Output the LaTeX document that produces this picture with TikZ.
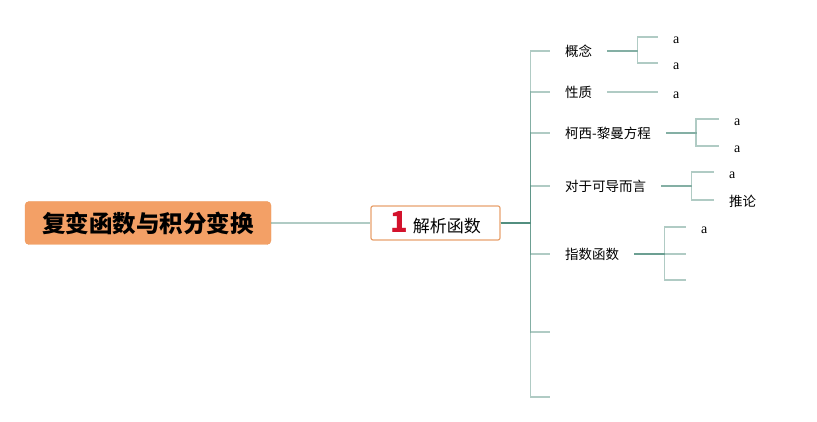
\documentclass[tikz,border=0pt]{standalone}
\usepackage{fontspec}
\newfontfamily\cjk{Noto Sans CJK SC}
\newfontfamily\blattfont{Liberation Serif}
\definecolor{rootfill}{HTML}{F3A066}
\definecolor{rootline}{HTML}{EE9A5C}
\definecolor{subline}{HTML}{E8A26E}
\definecolor{astfarbe}{HTML}{4F8C7D}
\definecolor{nummer}{HTML}{D3122C}
\tikzset{
    ast/.style={draw=astfarbe, draw opacity=0.45, line width=1.5pt},
    thema/.style={anchor=west, inner xsep=15pt, inner ysep=2pt, font=\cjk\fontsize{13.5}{16}\selectfont},
    blatt/.style={anchor=west, inner xsep=15pt, inner ysep=2pt, font=\blattfont\fontsize{14}{16}\selectfont},
}
\begin{document}
\begin{tikzpicture}[x=1pt,y=-1pt]
    \useasboundingbox (0,0) rectangle (817,422);
    \node[fill=rootfill, draw=rootline, rounded corners=4pt, minimum width=246pt, minimum height=43pt, font=\cjk\bfseries\fontsize{23.5}{26}\selectfont] (root) at (148,223) {复变函数与积分变换};
    \node[fill=white, draw=subline, line width=1.2pt, rounded corners=2pt, minimum width=129pt, minimum height=34pt, font=\cjk\fontsize{17}{20}\selectfont] (jx) at (435.5,223) {{\color{nummer}\bfseries\fontsize{29}{29}\selectfont 1}\hspace{5pt}解析函数};
    \draw[ast] (root) -- (jx);

    % zweite Ebene
    \node[thema] (gn) at (550,51) {概念};
    \node[thema] (xz) at (550,92) {性质};
    \node[thema] (kx) at (550,133) {柯西-黎曼方程};
    \node[thema] (dy) at (550,186) {对于可导而言};
    \node[thema] (zs) at (550,254) {指数函数};
    \node[thema] (e1) at (550,332) {};
    \node[thema] (e2) at (550,397) {};
    \foreach \n in {gn,xz,kx,dy,zs,e1,e2}
        \draw[ast] (jx.east) -- ++(30,0) |- (\n.west);

    % dritte Ebene
    \node[blatt] (ga) at (658,40) {a};
    \node[blatt] (gb) at (658,66) {a};
    \node[blatt] (xa) at (658,95) {a};
    \node[blatt] (ka) at (719,122) {a};
    \node[blatt] (kb) at (719,149) {a};
    \node[blatt] (da) at (714,175) {a};
    \node[blatt, font=\cjk\fontsize{13.5}{16}\selectfont] (db) at (714,201) {推论};
    \node[blatt] (za) at (686,230) {a};
    \node[blatt] (zb) at (686,257) {};
    \node[blatt] (zc) at (686,283) {};
    \foreach \p/\k in {gn/ga,gn/gb,xz/xa,kx/ka,kx/kb,dy/da,zs/za,zs/zb,zs/zc}
        \draw[ast] (\p.east) -- ++(30,0) |- ([yshift=3pt]\k.west);
    \draw[ast] (dy.east) -- ++(30,0) |- ([yshift=1pt]db.west);
\end{tikzpicture}
\end{document}
